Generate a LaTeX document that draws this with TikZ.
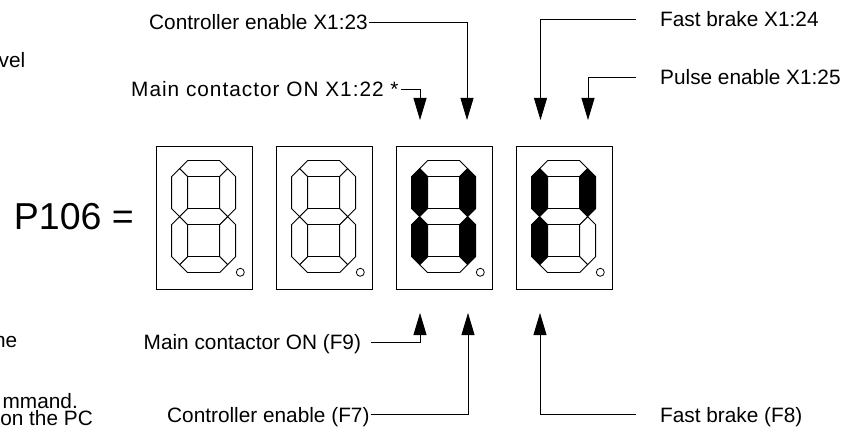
\documentclass[tikz,border=0pt]{standalone}
\usepackage{fontspec}
\setmainfont{Liberation Sans}
\usetikzlibrary{arrows.meta}
\newcommand\segdigit[8]{%
\begin{scope}[shift={(#1.north west)}]
 \path[seg,fill=#2] (24,23) -- (32,15) -- (64,15) -- (72,23) -- (64,31) -- (32,31) -- cycle;
 \path[seg,fill=#3] (72,23) -- (80,31) -- (80,63) -- (72,71) -- (64,63) -- (64,31) -- cycle;
 \path[seg,fill=#4] (72,71) -- (80,79) -- (80,111) -- (72,119) -- (64,111) -- (64,79) -- cycle;
 \path[seg,fill=#5] (24,119) -- (32,111) -- (64,111) -- (72,119) -- (64,127) -- (32,127) -- cycle;
 \path[seg,fill=#6] (24,71) -- (32,79) -- (32,111) -- (24,119) -- (16,111) -- (16,79) -- cycle;
 \path[seg,fill=#7] (24,23) -- (32,31) -- (32,63) -- (24,71) -- (16,63) -- (16,31) -- cycle;
 \path[seg,fill=#8] (24,71) -- (32,63) -- (64,63) -- (72,71) -- (64,79) -- (32,79) -- cycle;
 \draw[line width=0.8pt] (84.7,126.7) circle (4pt);
\end{scope}}
\begin{document}
\begin{tikzpicture}[x=1pt,y=-1pt,
  lbl/.style={inner sep=0pt, font=\fontsize{20.8}{24}\selectfont, text height=15pt, text depth=0pt},
  arr/.style={line width=0.8pt, -{Triangle[length=22pt,width=13pt]}},
  digitbox/.style={draw, line width=0.8pt, minimum width=96pt, minimum height=143pt, inner sep=0pt},
  seg/.style={draw, line width=0.8pt, line join=miter},
]
\useasboundingbox (0,0) rectangle (851,438);

% display boxes
\node[digitbox] (d1) at (204,217.5) {};
\node[digitbox] (d2) at (324,217.5) {};
\node[digitbox] (d3) at (444,217.5) {};
\node[digitbox] (d4) at (564,217.5) {};
\segdigit{d1}{white}{white}{white}{white}{white}{white}{white}
\segdigit{d2}{white}{white}{white}{white}{white}{white}{white}
\segdigit{d3}{white}{black}{black}{white}{black}{black}{white}
\segdigit{d4}{white}{black}{white}{white}{black}{black}{white}

\node[inner sep=0pt, font=\fontsize{37.5}{40}\selectfont, anchor=base east] (p) at (134,229.5) {P106 =};

% labels
\node[lbl, anchor=base west] (cet) at (149,29.5) {Controller enable X1:23};
\node[lbl, anchor=base west] (mct) at (131,96.5) {\addfontfeatures{LetterSpace=4.8}Main contactor ON X1:22 *};
\node[lbl, anchor=base west] (fbt) at (660,27) {Fast brake X1:24};
\node[lbl, anchor=base west] (pet) at (660,85) {Pulse enable X1:25};
\node[lbl, anchor=base west] (mcb) at (143.5,349.5) {Main contactor ON (F9)};
\node[lbl, anchor=base west] (ceb) at (167,422) {Controller enable (F7)};
\node[lbl, anchor=base west] (fbb) at (660,422) {Fast brake (F8)};

% cut-off fragments at the left edge
\node[lbl, anchor=base east] (f1) at (25.5,68) {vel};
\node[lbl, anchor=base east] (f2) at (17.5,347) {ne};
\node[lbl, anchor=base east] (f3) at (78,408) {mmand.};
\node[lbl, anchor=base east] (f4) at (93,425) {on the PC};

% arrow tips
\coordinate (t1) at (420,120);
\coordinate (t2) at (467,120);
\coordinate (t3) at (540.5,120);
\coordinate (t4) at (588,120);
\coordinate (b1) at (420,313);
\coordinate (b2) at (468,313);
\coordinate (b3) at (540,313);

\draw[arr] ([xshift=2pt]mct.east) -| (t1);
\draw[arr] ([xshift=1pt]cet.east) -| (t2);
\draw[arr] ([xshift=-24pt]fbt.west) -| (t3);
\draw[arr] ([xshift=-24pt]pet.west) -| (t4);
\draw[arr] ([xshift=10pt]mcb.east) -| (b1);
\draw[arr] ([xshift=1pt]ceb.east) -| (b2);
\draw[arr] ([xshift=-24pt]fbb.west) -| (b3);
\end{tikzpicture}
\end{document}
